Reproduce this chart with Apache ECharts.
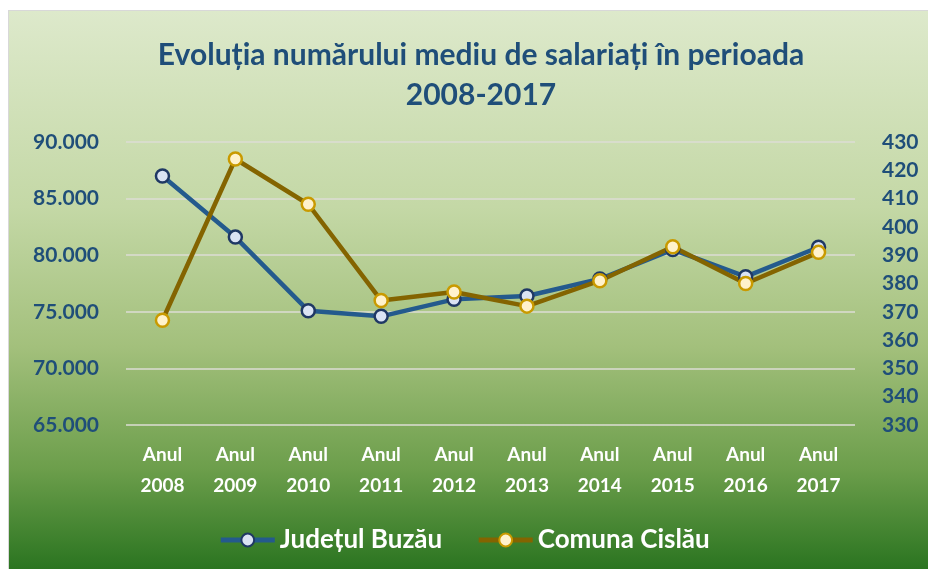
<!DOCTYPE html>
<html>
<head>
<meta charset="utf-8">
<title>Evoluția numărului mediu de salariați</title>
<script src="https://cdn.jsdelivr.net/npm/echarts@6/dist/echarts.min.js"></script>
<style>
  html, body { margin: 0; padding: 0; background: #ffffff; }
  #bg {
    position: absolute; left: 8px; top: 10px; width: 920px; height: 559px;
    border-top: 1px solid #d8d8d8; border-left: 1px solid #d8d8d8;
    background: linear-gradient(to bottom, #dde9cb 0%, #c4d8a6 35%, #a3c07c 60%, #6c9e4b 82%, #2a7420 100%);
  }
  #chart { position: absolute; left: 0; top: 0; width: 928px; height: 569px; }
</style>
</head>
<body>
<div id="bg"></div>
<div id="chart"></div>
<script>
// years on the x axis
const years = [2008, 2009, 2010, 2011, 2012, 2013, 2014, 2015, 2016, 2017];
// Județul Buzău - left axis
const judetBuzau = [87000, 81600, 75100, 74600, 76100, 76400, 77900, 80500, 78100, 80700];
// Comuna Cislău - right axis
const comunaCislau = [367, 424, 408, 374, 377, 372, 381, 393, 380, 391];

const leftMin = 65000, leftMax = 90000, leftStep = 5000;
const rightMin = 330, rightMax = 430, rightStep = 10;

const labelBlue = "#1f4e79";

function fmtThousands(v) {
  return String(v).replace(/\B(?=(\d{3})+(?!\d))/g, ".");
}

const chart = echarts.init(document.getElementById("chart"));
chart.setOption({
  backgroundColor: "transparent",
  animation: false,
  title: {
    text: "Evoluția numărului mediu de salariați în perioada\n2008-2017",
    left: 476,
    textAlign: "center",
    top: 30,
    textStyle: {
      color: labelBlue,
      fontFamily: "Lato",
      fontWeight: "bold",
      fontSize: 30,
      lineHeight: 40
    }
  },
  grid: {
    left: 126,
    right: 73,
    top: 142,
    bottom: 144
  },
  legend: {
    top: 522,
    left: "center",
    itemWidth: 54,
    itemHeight: 16,
    itemGap: 34,
    lineStyle: { width: 5 },
    textStyle: {
      color: "#ffffff",
      fontFamily: "Lato",
      fontWeight: "bold",
      fontSize: 26
    },
    data: ["Județul Buzău", "Comuna Cislău"]
  },
  xAxis: {
    type: "category",
    data: years.map(y => "Anul\n" + y),
    axisLine: { show: false },
    axisTick: { show: false },
    axisLabel: {
      color: "#ffffff",
      fontFamily: "Lato",
      fontWeight: "bold",
      fontSize: 19,
      lineHeight: 31,
      margin: 14,
      interval: 0
    }
  },
  yAxis: [
    {
      type: "value",
      min: leftMin,
      max: leftMax,
      interval: leftStep,
      axisLine: { show: false },
      axisTick: { show: false },
      splitLine: { lineStyle: { color: "#dcdcd4", width: 1.5 } },
      axisLabel: {
        color: labelBlue,
        fontFamily: "Lato",
        fontWeight: "bold",
        fontSize: 21,
        margin: 27,
        formatter: fmtThousands
      }
    },
    {
      type: "value",
      min: rightMin,
      max: rightMax,
      interval: rightStep,
      axisLine: { show: false },
      axisTick: { show: false },
      splitLine: { show: false },
      axisLabel: {
        color: labelBlue,
        fontFamily: "Lato",
        fontWeight: "bold",
        fontSize: 21,
        margin: 27
      }
    }
  ],
  series: [
    {
      name: "Județul Buzău",
      type: "line",
      yAxisIndex: 0,
      data: judetBuzau,
      symbol: "circle",
      symbolSize: 13,
      lineStyle: { color: "#245a8d", width: 4.5 },
      itemStyle: { color: "#dae3f3", borderColor: "#1f3864", borderWidth: 2.5 }
    },
    {
      name: "Comuna Cislău",
      type: "line",
      yAxisIndex: 1,
      data: comunaCislau,
      symbol: "circle",
      symbolSize: 13,
      lineStyle: { color: "#846400", width: 4.5 },
      itemStyle: { color: "#fff2cc", borderColor: "#c99a00", borderWidth: 2.5 }
    }
  ]
});
</script>
</body>
</html>
